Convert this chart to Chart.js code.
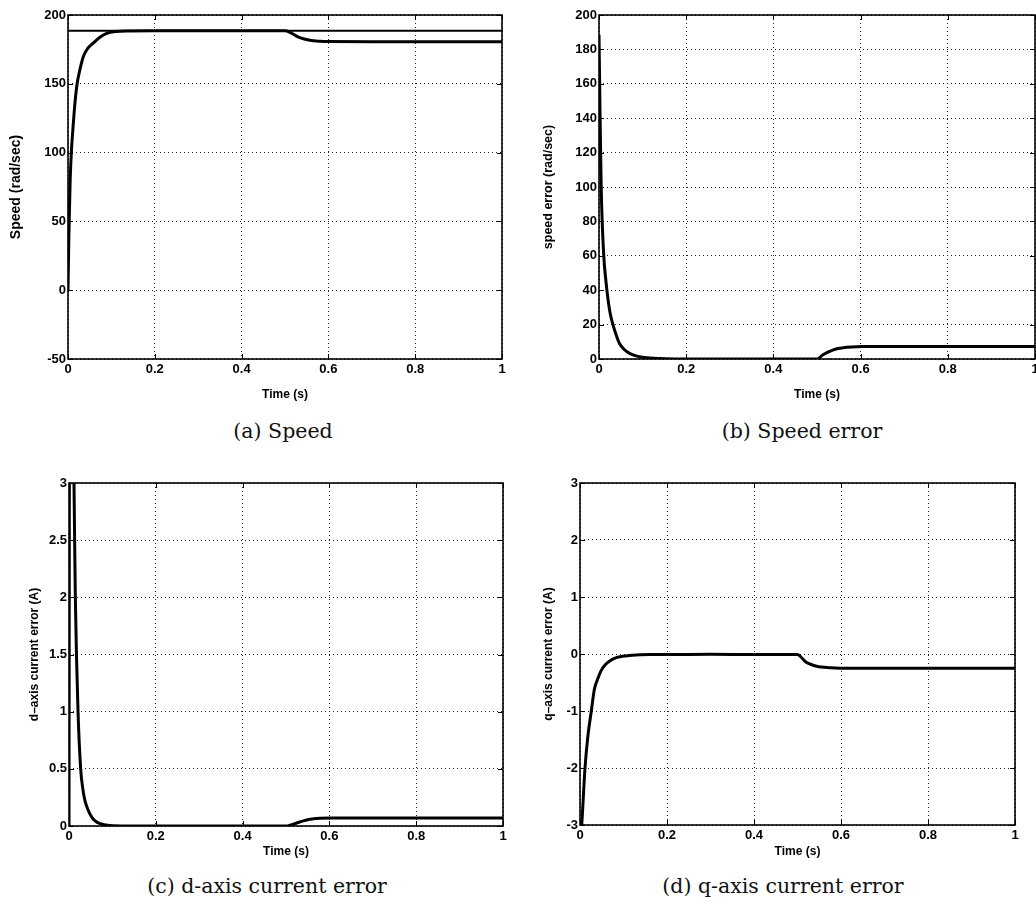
<!DOCTYPE html>
<html>
<head>
<meta charset="utf-8">
<script src="https://cdn.jsdelivr.net/npm/chart.js@4.4.0/dist/chart.umd.min.js"></script>
<style>
html, body { margin: 0; padding: 0; background: #fff; overflow: hidden; width: 1036px; height: 905px; }
canvas { position: absolute; }
.cap { position: absolute; font-family: "DejaVu Serif", serif; font-size: 20.5px; color: #111; white-space: nowrap; transform: translate(-50%, -50%); }
</style>
</head>
<body>
<canvas id="pa" width="516" height="410" style="left:0;top:0"></canvas>
<canvas id="pb" width="540" height="410" style="left:516px;top:0"></canvas>
<canvas id="pc" width="516" height="400" style="left:0;top:470px"></canvas>
<canvas id="pd" width="520" height="400" style="left:516px;top:470px"></canvas>
<div class="cap" style="left:283px;top:431px">(a) Speed</div>
<div class="cap" style="left:802px;top:431px">(b) Speed error</div>
<div class="cap" style="left:267px;top:886px">(c) d-axis current error</div>
<div class="cap" style="left:783px;top:886px">(d) q-axis current error</div>
<script>
// (a) velocidad
var t_vel = [0, 0.002, 0.005, 0.008, 0.0115, 0.016, 0.021, 0.028, 0.035, 0.045, 0.058, 0.072, 0.088, 0.11, 0.14, 0.2, 0.3, 0.4, 0.5, 0.51, 0.52, 0.534, 0.557, 0.58, 0.6, 0.7, 0.8, 0.9, 1];
var velocidad = [0, 40, 80, 102, 118, 136, 150, 161, 169.5, 175.5, 179.5, 183.5, 186.5, 188, 188.4, 188.5, 188.5, 188.5, 188.5, 187.6, 185.8, 183.5, 181.6, 180.9, 180.7, 180.6, 180.6, 180.6, 180.6];
var t_ref = [0, 1];
var referencia = [188.5, 188.5];

// (b) error de velocidad
var t_err = [0, 0.002, 0.005, 0.0107, 0.016, 0.021, 0.026, 0.032, 0.04, 0.047, 0.058, 0.07, 0.085, 0.1, 0.125, 0.154, 0.2, 0.3, 0.4, 0.5, 0.513, 0.525, 0.536, 0.548, 0.56, 0.58, 0.605, 0.7, 0.8, 0.9, 1];
var error_vel = [188.5, 150, 100, 61, 45, 34, 26, 20, 13.5, 9, 5.5, 3.3, 1.8, 1, 0.4, 0.1, 0, 0, 0, 0, 2.3, 4, 5.2, 6.1, 6.6, 7.0, 7.2, 7.3, 7.3, 7.3, 7.3];

// (c) error corriente eje d
var t_id = [0, 0.002, 0.0115, 0.013, 0.0146, 0.0208, 0.0269, 0.032, 0.0369, 0.044, 0.052, 0.06, 0.0715, 0.085, 0.102, 0.15, 0.2, 0.3, 0.4, 0.5, 0.51, 0.52, 0.53, 0.54, 0.55, 0.56, 0.58, 0.6, 0.7, 0.8, 0.9, 1];
var error_id = [0, 6, 3.0, 2.5, 2.0, 1.0, 0.5, 0.32, 0.22, 0.14, 0.08, 0.045, 0.02, 0.008, 0.002, 0, 0, 0, 0, 0, 0.008, 0.02, 0.033, 0.045, 0.055, 0.062, 0.068, 0.07, 0.071, 0.071, 0.071, 0.071];

// (d) error corriente eje q
var t_iq = [0, 0.004, 0.0115, 0.018, 0.026, 0.033, 0.04, 0.048, 0.058, 0.071, 0.085, 0.098, 0.12, 0.16, 0.2, 0.3, 0.4, 0.5, 0.51, 0.519, 0.53, 0.542, 0.555, 0.573, 0.603, 0.7, 0.8, 0.9, 1];
var error_iq = [-3.4, -3.0, -2.0, -1.45, -1.0, -0.62, -0.45, -0.3, -0.19, -0.11, -0.06, -0.04, -0.02, -0.01, -0.01, -0.005, -0.01, -0.01, -0.07, -0.14, -0.18, -0.21, -0.23, -0.24, -0.25, -0.25, -0.25, -0.25, -0.25];

var x_ticks = { min: 0, max: 1, step: 0.2 };

var fuente = 'Liberation Sans, Arial, Helvetica, sans-serif';

function puntos(tt, vv) {
    var out = [];
    for (var i = 0; i < tt.length; i++) {
        out.push({ x: tt[i], y: vv[i] });
    }
    return out;
}

function fmt(v) {
    return String(parseFloat(Number(v).toFixed(2)));
}

// caja estilo matlab con marcas hacia adentro
var marco = {
    id: 'marco',
    afterDraw: function (chart) {
        var c = chart.ctx, a = chart.chartArea;
        var sx = chart.scales.x, sy = chart.scales.y;
        c.save();
        c.strokeStyle = '#000';
        c.lineWidth = 1;
        c.beginPath();
        sx.ticks.forEach(function (tk) {
            var px = Math.round(sx.getPixelForValue(tk.value)) + 0.5;
            c.moveTo(px, a.bottom); c.lineTo(px, a.bottom - 5);
            c.moveTo(px, a.top); c.lineTo(px, a.top + 5);
        });
        sy.ticks.forEach(function (tk) {
            var py = Math.round(sy.getPixelForValue(tk.value)) + 0.5;
            c.moveTo(a.left, py); c.lineTo(a.left + 5, py);
            c.moveTo(a.right, py); c.lineTo(a.right - 5, py);
        });
        c.stroke();
        c.lineWidth = 1.6;
        c.strokeRect(a.left, a.top, a.right - a.left, a.bottom - a.top);
        c.restore();
    }
};

function crearPanel(id, series, ymin, ymax, ystep, ytitulo, lay) {
    return new Chart(document.getElementById(id).getContext('2d'), {
        type: 'line',
        data: { datasets: series },
        options: {
            responsive: false,
            animation: false,
            devicePixelRatio: 1,
            layout: { padding: { top: lay.top, right: lay.right, left: 0, bottom: 0 } },
            plugins: { legend: { display: false }, tooltip: { enabled: false } },
            elements: { point: { radius: 0 }, line: { borderColor: '#000', cubicInterpolationMode: 'monotone' } },
            scales: {
                x: {
                    type: 'linear', min: x_ticks.min, max: x_ticks.max,
                    ticks: { stepSize: x_ticks.step, autoSkip: false, maxRotation: 0, color: '#000', padding: 3,
                        font: { family: fuente, size: 13, weight: 'bold' }, callback: fmt },
                    grid: { color: '#222', lineWidth: 1, drawTicks: false },
                    border: { display: false, dash: [1, 3] },
                    title: { display: true, text: 'Time (s)', color: '#000',
                        font: { family: fuente, size: 12, weight: 'bold' }, padding: { top: 0, bottom: lay.xtp } },
                    afterFit: function (s) { s.height = lay.xh; }
                },
                y: {
                    type: 'linear', min: ymin, max: ymax,
                    ticks: { stepSize: ystep, autoSkip: false, color: '#000', padding: 2,
                        font: { family: fuente, size: 13, weight: 'bold' }, callback: fmt },
                    grid: { color: '#222', lineWidth: 1, drawTicks: false },
                    border: { display: false, dash: [1, 3] },
                    title: { display: true, text: ytitulo, color: '#000',
                        font: { family: fuente, size: lay.yts, weight: 'bold' }, padding: { top: lay.ytp, bottom: 0 } },
                    afterFit: function (s) { s.width = lay.yw; }
                }
            }
        },
        plugins: [marco]
    });
}

crearPanel('pa', [
    { data: puntos(t_ref, referencia), borderWidth: 2 },
    { data: puntos(t_vel, velocidad), borderWidth: 3 }
], -50, 200, 50, 'Speed (rad/sec)', { top: 15, right: 14, xh: 51, xtp: 8, yw: 68, ytp: 8, yts: 14 });

crearPanel('pb', [
    { data: puntos(t_err, error_vel), borderWidth: 3 }
], 0, 200, 20, 'speed error (rad/sec)', { top: 15, right: 21, xh: 51, xtp: 8, yw: 83, ytp: 25, yts: 12.5 });

crearPanel('pc', [
    { data: puntos(t_id, error_id), borderWidth: 3 }
], 0, 3, 0.5, 'd\u2013axis current error (A)', { top: 13, right: 13, xh: 44, xtp: 11, yw: 69, ytp: 27, yts: 12 });

crearPanel('pd', [
    { data: puntos(t_iq, error_iq), borderWidth: 3 }
], -3, 3, 1, 'q\u2013axis current error (A)', { top: 13, right: 21, xh: 45, xtp: 11, yw: 64, ytp: 25, yts: 12 });
</script>
</body>
</html>
